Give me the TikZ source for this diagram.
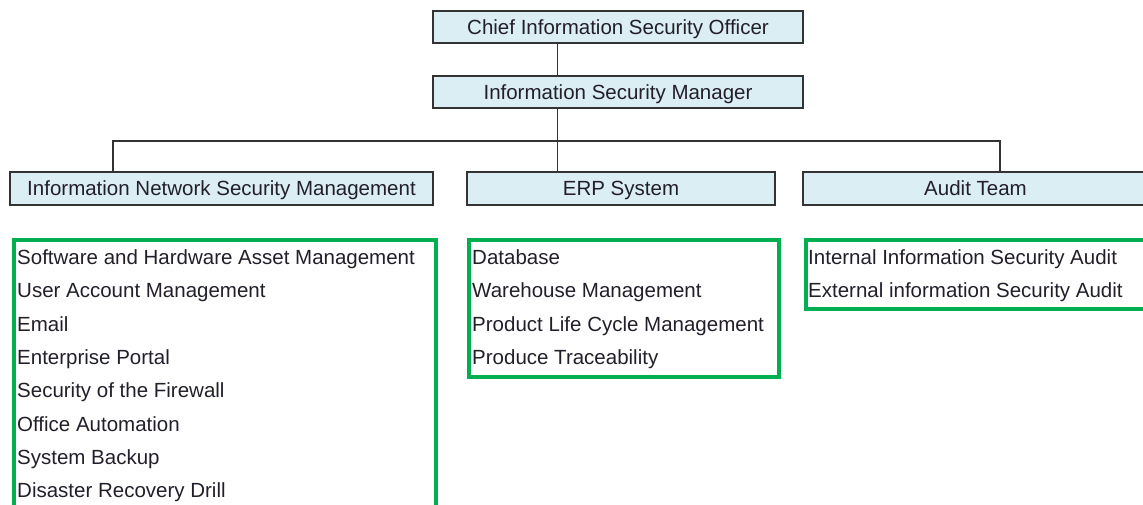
\documentclass[tikz,border=0pt]{standalone}
\usepackage{fontspec}
\setmainfont{Liberation Sans}
\definecolor{hdrfill}{HTML}{DBEEF4}
\definecolor{hdrline}{HTML}{333333}
\definecolor{grn}{HTML}{00B050}
\definecolor{txt}{HTML}{231F2A}
\tikzset{
  hdr/.style={draw=hdrline, line width=1.5pt, fill=hdrfill, inner sep=0pt, text=txt, text height=14.5pt, text depth=0pt, font=\fontsize{20.5}{24}\selectfont},
  conn/.style={draw=hdrline, line width=1.6pt},
  grnbox/.style={draw=grn, line width=3.6pt, inner sep=0pt},
  item/.style={anchor=base west, inner sep=0pt, text=txt, font=\fontsize{20.5}{24}\selectfont}
}
\begin{document}
\begin{tikzpicture}[x=1pt,y=-1pt]
\useasboundingbox (0,0) rectangle (1143,505);
\clip (0,0) rectangle (1143,505);
% header boxes
\node[hdr, minimum width=370pt, minimum height=32pt] (ciso) at (618,27) {Chief Information Security Officer};
\node[hdr, minimum width=370pt, minimum height=32pt] (ism) at (618,92) {Information Security Manager};
\node[hdr, minimum width=423pt, minimum height=33pt] (insm) at (221.5,188.5) {Information Network Security Management};
\node[hdr, minimum width=308pt, minimum height=33pt] (erp) at (621,188.5) {ERP System};
\node[hdr, minimum width=345pt, minimum height=33pt] (audit) at (975.5,188.5) {Audit Team};
% connector coordinates
\coordinate (cx) at (557.5,0);
\coordinate (lx) at (113,141);
\coordinate (rx) at (1000,141);
\draw[conn] (ciso.south -| cx) -- (ism.north -| cx);
\draw[conn] (ism.south -| cx) -- (erp.north -| cx);
\draw[conn] (insm.north -| lx) -- (lx) -- (rx) -- (audit.north -| rx);
% green boxes
\node[grnbox, minimum width=422pt, minimum height=290pt, anchor=north west] (g1) at (12,238) {};
\node[grnbox, minimum width=310pt, minimum height=137pt, anchor=north west] (g2) at (467,238) {};
\node[grnbox, minimum width=345pt, minimum height=69pt, anchor=north west] (g3) at (804,238) {};
% items
\node[item] (a1) at (17,264) {Software and Hardware Asset Management};
\node[item] (a2) at (17,297.5) {User Account Management};
\node[item] (a3) at (17,331) {Email};
\node[item] (a4) at (17,364) {Enterprise Portal};
\node[item] (a5) at (17,397.5) {Security of the Firewall};
\node[item] (a6) at (17,431) {Office Automation};
\node[item] (a7) at (17,464) {System Backup};
\node[item] (a8) at (17,497) {Disaster Recovery Drill};
\node[item] (b1) at (472,264) {Database};
\node[item] (b2) at (472,297.5) {Warehouse Management};
\node[item] (b3) at (472,331) {Product Life Cycle Management};
\node[item] (b4) at (472,364) {Produce Traceability};
\node[item] (c1) at (808,264) {Internal Information Security Audit};
\node[item] (c2) at (808,297.5) {External information Security Audit};
\end{tikzpicture}
\end{document}
